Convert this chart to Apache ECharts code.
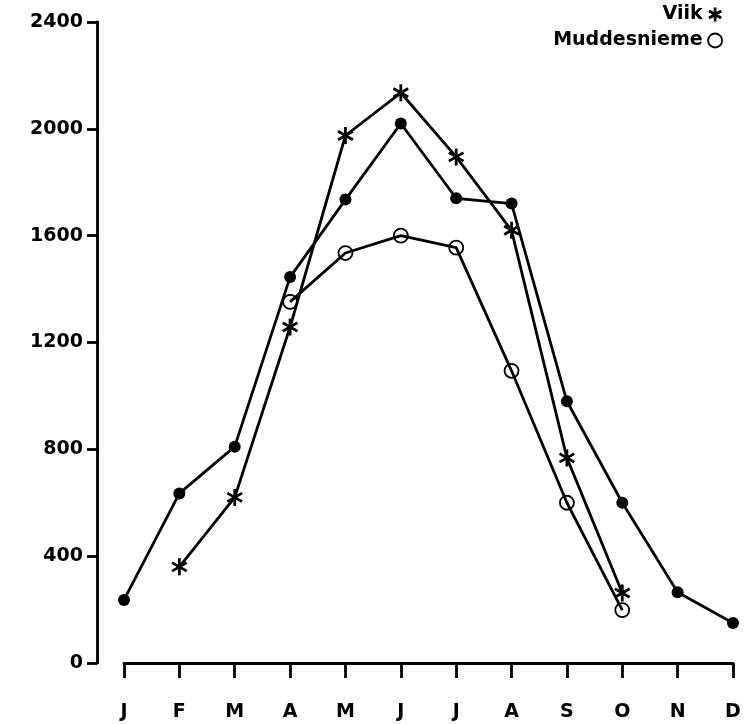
<!DOCTYPE html>
<html>
<head>
<meta charset="utf-8">
<script src="https://cdn.jsdelivr.net/npm/echarts@6/dist/echarts.min.js"></script>
<style>html,body{margin:0;padding:0;background:#fff;}#c{width:748px;height:724px;}</style>
</head>
<body>
<div id="c"></div>
<script>
const months = ['J','F','M','A','M','J','J','A','S','O','N','D'];
const yTicks = [0, 400, 800, 1200, 1600, 2000, 2400];
const filledSeries = [236, 635, 810, 1445, 1735, 2020, 1740, 1720, 980, 600, 265, 150];
const viik = [null, 360, 620, 1258, 1975, 2135, 1895, 1620, 768, 262, null, null];
const muddesnieme = [null, null, null, 1352, 1535, 1600, 1555, 1094, 600, 198, null, null];

const FONT = 'DejaVu Sans';
const asterisk = 'path://M0,-10L0,10M-8.66,-5L8.66,5M-8.66,5L8.66,-5';

const chart = echarts.init(document.getElementById('c'), null, {renderer: 'canvas'});
chart.setOption({
  animation: false,
  backgroundColor: '#fff',
  grid: {left: 124, right: 15, top: 22, bottom: 61},
  legend: {
    orient: 'vertical',
    right: 20,
    top: 0,
    align: 'right',
    itemWidth: 15,
    itemHeight: 14,
    itemGap: 7,
    selectedMode: false,
    textStyle: {fontFamily: FONT, fontWeight: 'bold', fontSize: 19, color: '#000'},
    data: [
      {name: 'Viik', icon: asterisk, itemStyle: {color: '#000', borderColor: '#000', borderWidth: 2.8}},
      {name: 'Muddesnieme', icon: 'circle', itemStyle: {color: 'rgba(0,0,0,0)', borderColor: '#000', borderWidth: 1.8}}
    ]
  },
  xAxis: {
    type: 'category',
    data: months,
    boundaryGap: false,
    axisLine: {show: true, lineStyle: {color: '#000', width: 2.8}},
    axisTick: {show: true, length: 15, lineStyle: {color: '#000', width: 2.8}},
    axisLabel: {margin: 40, fontFamily: FONT, fontWeight: 'bold', fontSize: 19, color: '#000', interval: 0},
    splitLine: {show: false}
  },
  yAxis: {
    type: 'value',
    min: yTicks[0],
    max: yTicks[yTicks.length - 1],
    interval: yTicks[1] - yTicks[0],
    offset: 27,
    axisLine: {show: true, lineStyle: {color: '#000', width: 2.8}},
    axisTick: {show: true, length: 10, lineStyle: {color: '#000', width: 2.8}},
    axisLabel: {margin: 14, fontFamily: FONT, fontWeight: 'bold', fontSize: 19, color: '#000', formatter: v => String(v)},
    splitLine: {show: false}
  },
  series: [
    {
      name: 'filled',
      type: 'line',
      data: filledSeries,
      symbol: 'circle',
      symbolSize: 12,
      itemStyle: {color: '#000'},
      lineStyle: {color: '#000', width: 2.8},
      emphasis: {disabled: true}
    },
    {
      name: 'Viik',
      type: 'line',
      data: viik,
      symbol: asterisk,
      symbolSize: 17,
      symbolKeepAspect: true,
      itemStyle: {color: '#000', borderColor: '#000', borderWidth: 2.8},
      lineStyle: {color: '#000', width: 2.8},
      emphasis: {disabled: true}
    },
    {
      name: 'Muddesnieme',
      type: 'line',
      data: muddesnieme,
      symbol: 'circle',
      symbolSize: 14,
      itemStyle: {color: 'rgba(0,0,0,0)', borderColor: '#000', borderWidth: 1.8},
      lineStyle: {color: '#000', width: 2.8},
      emphasis: {disabled: true}
    }
  ]
});
</script>
</body>
</html>
